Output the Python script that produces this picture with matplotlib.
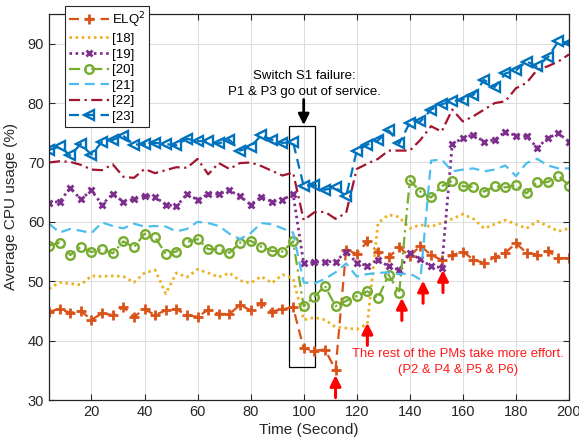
import numpy as np
import matplotlib
matplotlib.use("Agg")
import matplotlib.pyplot as plt
from matplotlib.patches import Rectangle

plt.rcParams['font.family'] = ['Liberation Sans', 'DejaVu Sans']

# ---------------- data ----------------
time = list(range(4, 201, 4))

elq2 = [44.9, 45.3, 44.7, 45.0, 43.5, 44.6, 44.3, 45.7, 44.0, 45.3, 44.3, 45.1,
        45.3, 44.3, 44.0, 45.2, 44.5, 44.5, 46.0, 45.1, 46.3, 44.9, 45.3, 45.6,
        38.7, 38.3, 38.5, 35.1,
        55.3, 54.6, 56.7, 54.9, 54.0, 55.7, 54.2, 56.0, 54.4, 53.6, 54.4, 55.0,
        53.6, 53.1, 54.0, 54.8, 56.4, 54.8, 54.5, 55.1, 53.9, 53.9]

ref18 = [48.7, 49.8, 49.6, 49.4, 50.9, 50.8, 50.9, 50.8, 49.8, 51.4, 51.9, 47.9,
         51.4, 50.7, 52.0, 51.4, 50.7, 51.4, 50.1, 49.7, 50.8, 49.7, 51.1, 50.5,
         43.5, 43.9, 43.5, 42.3, 42.1, 41.9, 42.8,
         59.8, 61.2, 60.8, 58.9, 59.5, 59.2, 59.8, 60.5, 61.3, 60.5, 58.9, 59.6,
         60.3, 59.6, 58.9, 60.1, 59.3, 58.4, 58.9]

ref19 = [63.2, 63.4, 65.7, 63.8, 65.3, 62.9, 64.7, 63.4, 63.8, 64.4, 64.2, 62.9,
         62.6, 64.7, 63.7, 64.7, 64.7, 65.3, 64.3, 62.9, 64.2, 63.4, 63.7, 64.7,
         53.0, 53.2, 53.3, 53.3, 55.0, 53.1, 52.6, 53.6, 52.5, 51.9, 54.7, 53.7,
         52.5, 52.3,
         73.1, 74.1, 74.7, 73.5, 73.8, 75.2, 74.5, 74.4, 72.5, 74.1, 74.9, 73.5]

ref20 = [56.0, 56.5, 54.4, 55.8, 54.9, 55.4, 54.7, 56.7, 55.7, 58.0, 57.4, 54.6,
         55.0, 56.6, 57.1, 55.4, 55.4, 54.8, 56.5, 56.8, 55.8, 55.1, 55.0, 56.7,
         45.8, 47.4, 49.2, 45.8, 46.7, 47.5, 48.3, 47.1, 51.1, 48.1,
         67.0, 65.1, 64.1, 66.0, 66.9, 66.0, 65.9, 65.1, 66.0, 65.8, 66.2, 64.8,
         66.7, 66.7, 67.8, 66.1]

ref21 = [59.7, 58.2, 58.8, 58.5, 58.1, 59.9, 59.3, 58.9, 59.7, 59.2, 59.3, 59.2,
         58.4, 58.8, 60.0, 59.8, 59.3, 58.0, 57.1, 58.1, 59.8, 59.6, 58.9, 58.2,
         49.8, 49.6, 50.4, 51.5, 53.0, 50.8, 51.2, 51.4, 51.5, 51.2, 51.3, 50.3,
         70.3, 70.5, 68.5, 68.8, 69.0, 68.5, 68.8, 69.5, 67.7, 69.9, 70.6, 69.5,
         69.0, 69.0]

ref22 = [70.0, 70.2, 70.1, 69.6, 68.8, 68.7, 69.7, 67.6, 67.4, 68.9, 68.2, 68.7,
         69.2, 69.1, 70.6, 68.0, 69.9, 68.9, 69.9, 70.0, 69.4, 68.6, 67.8, 68.3,
         60.3, 61.6, 61.7, 60.5, 61.5, 68.9, 69.8, 70.6, 72.0, 72.0, 72.0, 73.8,
         76.1, 75.2, 78.9, 76.9, 77.8, 78.9, 80.0, 80.3, 82.5, 83.4, 85.6, 86.2,
         87.0, 88.2]

ref23 = [72.1, 72.7, 71.2, 73.1, 71.3, 73.5, 73.8, 74.5, 73.0, 73.1, 73.3, 73.1,
         72.9, 74.0, 73.6, 73.6, 73.2, 73.8, 72.0, 72.6, 74.6, 73.8, 73.3, 73.4,
         66.0, 66.2, 65.4, 65.8, 64.3, 72.0, 73.0, 73.7, 75.4, 73.2, 76.7, 76.9,
         78.9, 79.8, 80.3, 80.6, 81.4, 83.9, 82.7, 85.0, 85.5, 87.0, 86.2, 87.7,
         90.4, 90.1]

labels = ['ELQ$^2$', '[18]', '[19]', '[20]', '[21]', '[22]', '[23]']
xticks = [20, 40, 60, 80, 100, 120, 140, 160, 180, 200]
yticks = [30, 40, 50, 60, 70, 80, 90]

red_arrow_x = [112, 124, 137, 145, 152.5]
red_arrow_tip = [34.2, 43.0, 47.2, 50.1, 51.9]

# ---------------- figure ----------------
fig = plt.figure(figsize=(5.79, 4.43), dpi=100)
ax = fig.add_axes([49/579, 1-400/443, 520/579, 386/443])

dark = '#262626'
lw = 1.6
dash = (4.5, 2.6)
dashdot = (5, 2, 1, 2)
dot = (0.9, 1.3)

ax.plot(time, elq2, color='#D95319', lw=lw, dashes=dash, marker='+',
        ms=7.5, mew=2.0, label=labels[0])
ax.plot(time, ref18, color='#EDB120', lw=lw + 0.4, dashes=dot, label=labels[1])
ax.plot(time, ref19, color='#7E2F8E', lw=lw + 0.4, dashes=dot, marker='x',
        ms=5, mew=2.0, label=labels[2])
ax.plot(time, ref20, color='#77AC30', lw=lw, dashes=dashdot, marker='o',
        ms=6.2, mew=1.7, mfc='none', label=labels[3])
ax.plot(time, ref21, color='#4DBEEE', lw=lw, dashes=dash, label=labels[4])
ax.plot(time, ref22, color='#A2142F', lw=lw, dashes=dashdot, label=labels[5])
ax.plot(time, ref23, color='#0072BD', lw=lw, dashes=dash, marker='<',
        ms=7, mew=1.7, mfc='none', label=labels[6])

ax.set_xlim(4, 200)
ax.set_ylim(30, 95)
ax.set_xticks(xticks)
ax.set_yticks(yticks)
ax.grid(True, color='#dcdcdc', lw=0.7)
ax.set_axisbelow(True)
ax.tick_params(direction='in', top=True, right=True, colors=dark,
               labelsize=10.5, length=4, width=0.8)
for sp in ax.spines.values():
    sp.set_color(dark)
    sp.set_linewidth(0.9)
ax.set_xlabel('Time (Second)', fontsize=11, color=dark, labelpad=3)
ax.set_ylabel('Average CPU usage (%)', fontsize=11, color=dark, labelpad=7)

# failure box, text and arrow
ax.add_patch(Rectangle((94.6, 35.6), 9.7, 40.5, fill=False, ec='black', lw=0.9))
ax.text(100.3, 83.2, 'Switch S1 failure:\nP1 & P3 go out of service.',
        ha='center', va='center', fontsize=9.5, color='black', linespacing=1.5)
ax.annotate('', xy=(100, 76.3), xytext=(100, 80.6),
            arrowprops=dict(arrowstyle='-|>', color='black', lw=2,
                            mutation_scale=16, shrinkA=0, shrinkB=0))

# red annotations
ax.text(158.2, 36.4, 'The rest of the PMs take more effort.\n(P2 & P4 & P5 & P6)',
        ha='center', va='center', fontsize=9.4, color='#FF1A1A', linespacing=1.5)
for xa, ya in zip(red_arrow_x, red_arrow_tip):
    ax.annotate('', xy=(xa, ya), xytext=(xa, ya - 3.8),
                arrowprops=dict(arrowstyle='-|>', color='#FF0000', lw=2.2,
                                mutation_scale=16, shrinkA=0, shrinkB=0),
                annotation_clip=False)

leg = ax.legend(loc='upper left', bbox_to_anchor=(65/579, 1-6/443),
                bbox_transform=fig.transFigure, borderaxespad=0,
                fontsize=9.5, frameon=True, fancybox=False, framealpha=1,
                edgecolor=dark, handlelength=3.0, handletextpad=0.25,
                labelspacing=0.25, borderpad=0.3)
leg.get_frame().set_linewidth(0.8)

fig.savefig('out.png', dpi=100)
